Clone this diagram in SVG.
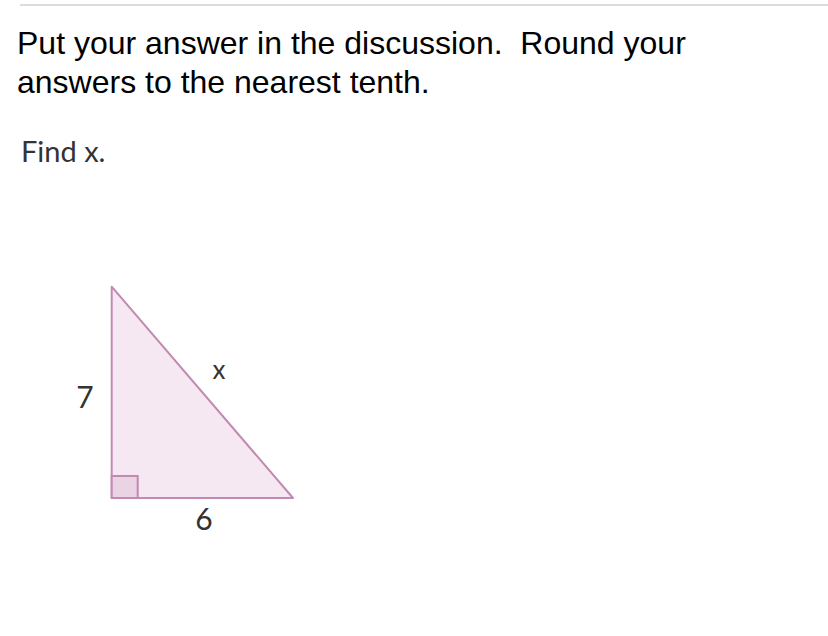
<svg xmlns="http://www.w3.org/2000/svg" width="828" height="636" viewBox="0 0 828 636">
<style>
.q{font-family:"Liberation Sans",Arial,sans-serif;font-size:32px;fill:#000}
.l{font-family:Lato,"Open Sans",sans-serif;fill:#333}
.tri{fill:#f6e8f2;stroke:#c28ab2;stroke-width:2;stroke-linejoin:round}
.ra{fill:#ead3e3;stroke:#c28ab2;stroke-width:2}
</style>
<rect x="0" y="0" width="828" height="636" fill="#fff"/>
<line x1="20" y1="5" x2="828" y2="5" stroke="#dcdcdc" stroke-width="2"/>
<text class="q" x="17" y="54" xml:space="preserve">Put your answer in the discussion.  Round your</text>
<text class="q" x="17" y="93">answers to the nearest tenth.</text>
<text class="l" x="21" y="162" font-size="29">Find x.</text>
<g id="triangle">
<polygon class="tri" points="111.7,286.7 111.7,498 293,498"/>
<rect class="ra" x="111.7" y="476" width="26" height="22"/>
</g>
<g id="labels">
<text class="l" x="85" y="408" font-size="30" text-anchor="middle">7</text>
<text class="l" x="219" y="379" font-size="26" text-anchor="middle">x</text>
<text class="l" x="204" y="530" font-size="30" text-anchor="middle">6</text>
</g>
</svg>
